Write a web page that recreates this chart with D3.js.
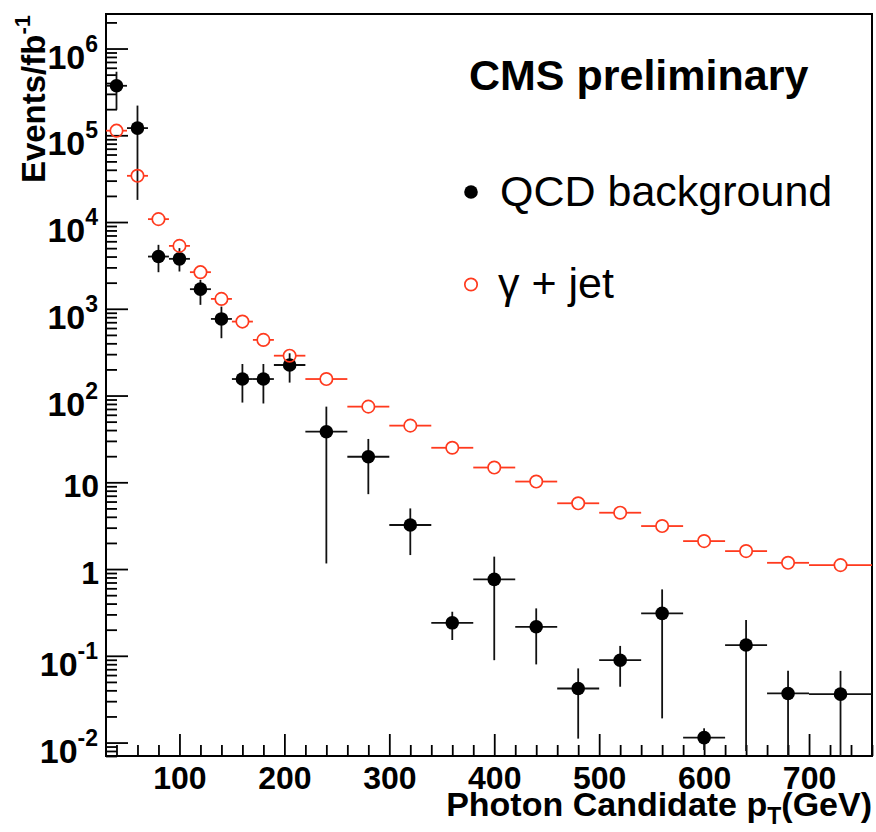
<!DOCTYPE html>
<html>
<head>
<meta charset="utf-8">
<script src="https://cdn.jsdelivr.net/npm/d3@7"></script>
<style>
  html, body { margin: 0; padding: 0; background: #fff; }
  svg { display: block; font-family: "Liberation Sans", Arial, Helvetica, sans-serif; }
</style>
</head>
<body>
<svg id="chart" width="876" height="832"></svg>
<script>
// pT bins (GeV): edges and centres
const binEdges = [30, 50, 70, 90, 110, 130, 150, 170, 190, 220, 260, 300, 340, 380, 420, 460, 500, 540, 580, 620, 660, 700, 760];
const binCenters = [40, 60, 80, 100, 120, 140, 160, 180, 205, 240, 280, 320, 360, 400, 440, 480, 520, 560, 600, 640, 680, 730];

// gamma + jet expectation (events / fb^-1)
const gammaJet = [1.13e5, 3.41e4, 1.08e4, 5310, 2643, 1300, 712, 438, 288, 155, 74.5, 45, 25, 14.8, 10.2, 5.73, 4.46, 3.13, 2.10, 1.61, 1.18, 1.11];

// QCD background with lower / upper error-bar ends
const qcd   = [3.72e5, 1.21e5, 4000, 3765, 1683, 764, 155, 155, 225, 38.3, 19.7, 3.22, 0.240, 0.76, 0.216, 0.042, 0.089, 0.308, 0.0114, 0.133, 0.0368, 0.0362];
const qcdLo = [1.97e5, 1.8e4, 2640, 2690, 1110, 458, 83, 81, 141, 1.16, 7.3, 1.45, 0.152, 0.089, 0.0796, 0.0111, 0.044, 0.019, 0.0082, 0.008, 0.0066, 0.0058];
const qcdHi = [5.4e5, 2.2e5, 5460, 5000, 2155, 1060, 231, 231, 307, 74.5, 31.6, 5.0, 0.322, 1.39, 0.352, 0.0716, 0.130, 0.583, 0.0146, 0.258, 0.0671, 0.067];

// axis ticks
const xMajor = [100, 200, 300, 400, 500, 600, 700];
const yMajorExp = [-2, -1, 0, 1, 2, 3, 4, 5, 6];

const svg = d3.select("#chart");
const L = 106, R = 872, T = 14, B = 756;
const RED = "#ff3a1e";

const x = d3.scaleLinear().domain([30, 760]).range([L, R]);
const y = d3.scaleLog().domain([0.007, 2.5e6]).range([B, T]);
const yc = v => v <= 0 ? B : Math.min(B, Math.max(T, y(v)));

// ---------- axes ----------
const xMinor = d3.range(40, 761, 20).filter(v => v % 100 !== 0);
svg.append("g").attr("transform", `translate(0,${B})`)
  .call(d3.axisBottom(x).tickValues(xMinor).tickSize(-11).tickSizeOuter(0).tickFormat(""))
  .call(g => g.select(".domain").remove())
  .call(g => g.selectAll("line").attr("stroke", "#000").attr("stroke-width", 1.8));

svg.append("g").attr("transform", `translate(0,${B})`)
  .call(d3.axisBottom(x).tickValues(xMajor).tickSize(-22).tickSizeOuter(0).tickPadding(10.5).tickFormat(d3.format("d")))
  .call(g => g.select(".domain").remove())
  .call(g => g.selectAll("line").attr("stroke", "#000").attr("stroke-width", 1.8))
  .call(g => g.selectAll("text").attr("fill", "#000").attr("font-size", 32).attr("font-weight", "bold")
        .attr("font-family", "'Liberation Sans', Arial, Helvetica, sans-serif"));

const yMinor = [];
for (let e = -3; e <= 6; e++) for (let m = 2; m <= 9; m++) {
  const v = m * Math.pow(10, e);
  if (v >= 0.007 && v <= 2.5e6) yMinor.push(v);
}
svg.append("g").attr("transform", `translate(${L},0)`)
  .call(d3.axisLeft(y).tickValues(yMinor).tickSize(-11).tickSizeOuter(0).tickFormat(""))
  .call(g => g.select(".domain").remove())
  .call(g => g.selectAll("line").attr("stroke", "#000").attr("stroke-width", 1.8));

const yMajor = yMajorExp.map(e => Math.pow(10, e));
svg.append("g").attr("transform", `translate(${L},0)`)
  .call(d3.axisLeft(y).tickValues(yMajor).tickSize(-22).tickSizeOuter(0).tickFormat(""))
  .call(g => g.select(".domain").remove())
  .call(g => g.selectAll("line").attr("stroke", "#000").attr("stroke-width", 1.8));

// y tick labels: 1 and 10 plain, the rest as powers of ten
const yLab = svg.append("g").attr("font-weight", "bold").attr("fill", "#000");
yMajorExp.forEach(e => {
  const ty = y(Math.pow(10, e));
  if (e === 0 || e === 1) {
    yLab.append("text").attr("x", 99).attr("y", ty + 15).attr("text-anchor", "end")
      .attr("font-size", 32).text(e === 0 ? "1" : "10");
  } else {
    const t = yLab.append("text").attr("x", 98).attr("y", ty + 20).attr("text-anchor", "end");
    t.append("tspan").attr("font-size", 34).text("10");
    t.append("tspan").attr("font-size", 23).attr("dy", -17).text(String(e));
  }
});

// frame
svg.append("rect").attr("x", L).attr("y", T).attr("width", R - L).attr("height", B - T)
  .attr("fill", "none").attr("stroke", "#000").attr("stroke-width", 2);

// axis titles
const xt = svg.append("text").attr("x", R).attr("y", 816).attr("text-anchor", "end")
  .attr("font-size", 34).attr("font-weight", "bold");
xt.append("tspan").text("Photon Candidate p");
xt.append("tspan").attr("font-size", 23).attr("dy", 8).text("T");
xt.append("tspan").attr("dy", -8).text("(GeV)");

const yt = svg.append("text").attr("transform", "translate(45,15) rotate(-90)")
  .attr("text-anchor", "end").attr("font-size", 33).attr("font-weight", "bold");
yt.append("tspan").text("Events/fb");
yt.append("tspan").attr("font-size", 22).attr("dy", -15).text("-1");

// ---------- data ----------
const R_B = 6.8, R_O = 6.2;
const plot = svg.append("g");

// QCD background: filled black circles with error bars
const qcdG = plot.append("g").attr("stroke", "#111").attr("stroke-width", 1.8);
qcd.forEach((v, i) => {
  const cx = x(binCenters[i]), cy = y(v);
  qcdG.append("line").attr("x1", x(binEdges[i])).attr("x2", x(binEdges[i + 1])).attr("y1", cy).attr("y2", cy);
  qcdG.append("line").attr("x1", cx).attr("x2", cx).attr("y1", yc(qcdHi[i])).attr("y2", yc(qcdLo[i]));
});
plot.append("g").selectAll("circle").data(qcd).join("circle")
  .attr("cx", (d, i) => x(binCenters[i])).attr("cy", d => y(d)).attr("r", R_B).attr("fill", "#000");

// gamma + jet: open red circles, bin-width bars stopping at the marker
const gjG = plot.append("g").attr("stroke", RED).attr("stroke-width", 1.8);
gammaJet.forEach((v, i) => {
  const cx = x(binCenters[i]), cy = y(v);
  gjG.append("line").attr("x1", x(binEdges[i])).attr("x2", cx - R_O).attr("y1", cy).attr("y2", cy);
  gjG.append("line").attr("x1", cx + R_O).attr("x2", x(binEdges[i + 1])).attr("y1", cy).attr("y2", cy);
});
plot.append("g").selectAll("circle").data(gammaJet).join("circle")
  .attr("cx", (d, i) => x(binCenters[i])).attr("cy", d => y(d)).attr("r", R_O)
  .attr("fill", "none").attr("stroke", RED).attr("stroke-width", 1.7);

// ---------- legend ----------
svg.append("text").attr("x", 469).attr("y", 89.5).attr("font-size", 43).attr("font-weight", "bold")
  .text("CMS preliminary");
svg.append("circle").attr("cx", 471).attr("cy", 192).attr("r", R_B).attr("fill", "#000");
svg.append("text").attr("x", 500).attr("y", 205.5).attr("font-size", 43).text("QCD background");
svg.append("circle").attr("cx", 471).attr("cy", 284.5).attr("r", R_O)
  .attr("fill", "none").attr("stroke", RED).attr("stroke-width", 1.7);
svg.append("text").attr("x", 498).attr("y", 298).attr("font-size", 43).text("γ + jet");
</script>
</body>
</html>
